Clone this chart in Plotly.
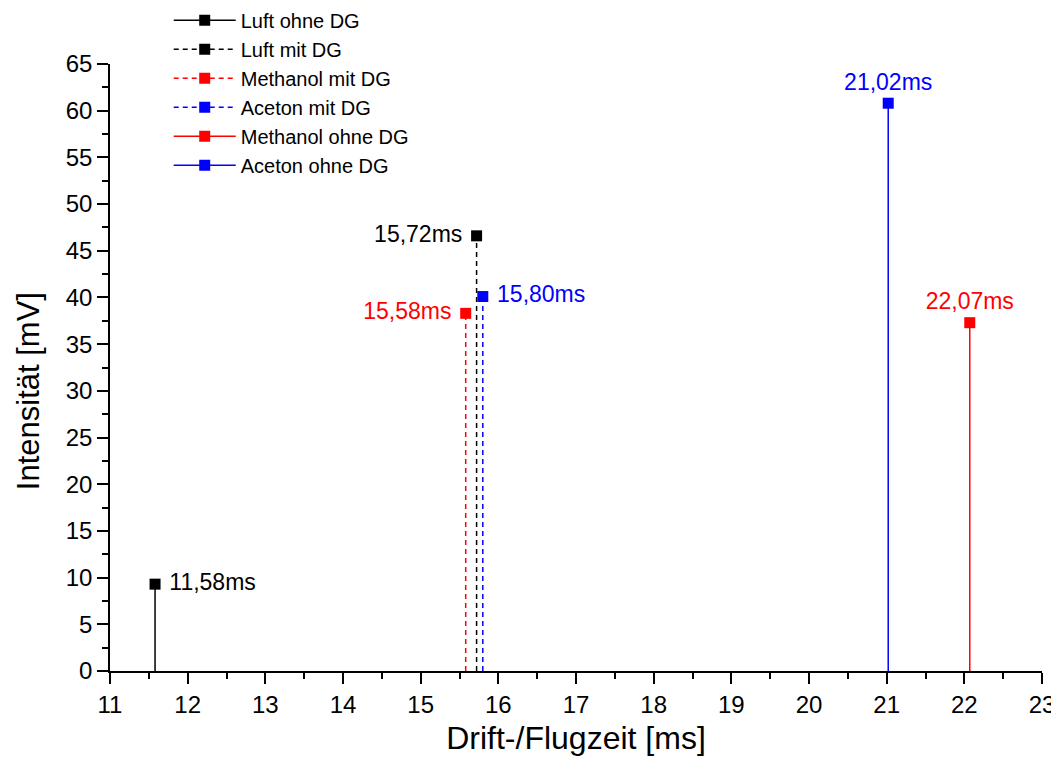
import plotly.graph_objects as go

# peak positions (drift time, ms) and intensities (mV)
names = ["Luft ohne DG", "Luft mit DG", "Methanol mit DG", "Aceton mit DG",
         "Methanol ohne DG", "Aceton ohne DG"]
drift_ms = [11.58, 15.72, 15.58, 15.80, 22.07, 21.02]
intensity_mv = [9.3, 46.6, 38.3, 40.1, 37.3, 60.8]
labels = ["11,58ms", "15,72ms", "15,58ms", "15,80ms", "22,07ms", "21,02ms"]
colors = ["#000000", "#000000", "#FF0000", "#0000FF", "#FF0000", "#0000FF"]
dashes = ["solid", "5px,4px", "5px,4px", "5px,4px", "solid", "solid"]
label_pos = ["middle right", "middle left", "middle left", "middle right",
             "top center", "top center"]

x_ticks = list(range(11, 24))
y_ticks = list(range(0, 66, 5))

FONT = "Liberation Sans, Arial, sans-serif"

fig = go.Figure()
for name, x, y, lab, col, dash, pos in zip(
    names, drift_ms, intensity_mv, labels, colors, dashes, label_pos
):
    # stem from the baseline up to the peak
    fig.add_trace(
        go.Scatter(
            x=[x, x], y=[0, y], mode="lines",
            line={"color": col, "width": 1.5, "dash": dash},
            showlegend=False, hoverinfo="skip",
        )
    )
    if pos == "middle left":
        txt = lab + " "
    elif pos == "middle right":
        txt = " " + lab
    else:
        txt = lab
    fig.add_trace(
        go.Scatter(
            x=[x], y=[y], mode="lines+markers+text", name=name,
            text=[txt], textposition=pos,
            textfont={"color": col, "size": 23, "family": FONT},
            line={"color": col, "width": 1.5, "dash": dash},
            marker={"symbol": "square", "size": 11, "color": col},
        )
    )

# page body adds an 8px offset, margins are set to compensate
fig.update_layout(
    width=1059, height=771,
    paper_bgcolor="white", plot_bgcolor="white",
    margin={"l": 102, "r": 25, "t": 56, "b": 108, "autoexpand": False},
    font={"family": FONT, "color": "black", "size": 24},
    legend={
        "x": 0.063, "y": 1.104, "xanchor": "left", "yanchor": "top",
        "bgcolor": "rgba(0,0,0,0)", "font": {"size": 20},
        "tracegroupgap": 0, "itemwidth": 62,
    },
)
fig.update_xaxes(
    range=[11, 23], tickvals=x_ticks, showgrid=False, zeroline=False,
    showline=True, linecolor="black", linewidth=1.5, automargin=False,
    ticks="outside", ticklen=11, tickwidth=1.5, tickcolor="black",
    tickfont={"size": 24},
    minor={"dtick": 0.5, "ticks": "outside", "ticklen": 6, "tickwidth": 1.5,
           "tickcolor": "black", "showgrid": False},
    title={"text": "Drift-/Flugzeit [ms]", "font": {"size": 32}, "standoff": 10},
)
fig.update_yaxes(
    range=[0, 65], tickvals=y_ticks, showgrid=False, zeroline=False,
    showline=True, linecolor="black", linewidth=1.5, automargin=False,
    ticks="outside", ticklen=11, tickwidth=1.5, tickcolor="black",
    tickfont={"size": 24},
    minor={"dtick": 2.5, "ticks": "outside", "ticklen": 6, "tickwidth": 1.5,
           "tickcolor": "black", "showgrid": False},
)
# y title sits a little below the axis centre in the original
fig.add_annotation(
    text="Intensität [mV]", textangle=-90, showarrow=False,
    xref="paper", yref="paper", x=-0.088, y=0.461,
    xanchor="center", yanchor="middle", font={"size": 31},
)

fig.write_html("out.html")
